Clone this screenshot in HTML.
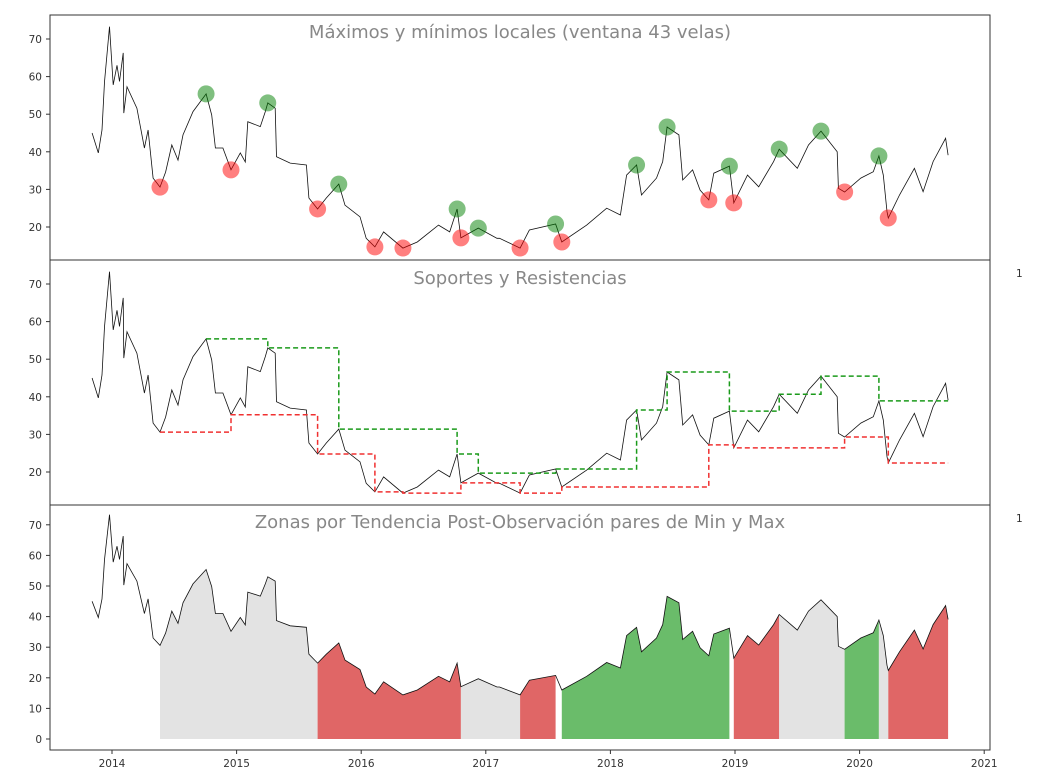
<!DOCTYPE html>
<html><head><meta charset="utf-8"><style>
html,body{margin:0;padding:0;background:#fff;}
svg{display:block;font-family:"DejaVu Sans","Liberation Sans",sans-serif;}
</style></head><body>
<svg id="chart" width="1050" height="777" viewBox="0 0 1050 777" xmlns="http://www.w3.org/2000/svg"></svg>
<script>
const priceYears=[2013.84,2013.89,2013.92,2013.94,2013.98,2014.01,2014.04,2014.06,2014.09,2014.095,2014.12,2014.20,2014.26,2014.29,2014.33,2014.385,2014.43,2014.48,2014.53,2014.57,2014.65,2014.755,2014.80,2014.83,2014.89,2014.955,2015.03,2015.07,2015.09,2015.19,2015.23,2015.25,2015.31,2015.32,2015.43,2015.56,2015.58,2015.65,2015.72,2015.82,2015.87,2015.99,2016.04,2016.11,2016.18,2016.335,2016.45,2016.62,2016.71,2016.77,2016.80,2016.94,2017.09,2017.11,2017.275,2017.35,2017.56,2017.61,2017.81,2017.97,2018.08,2018.13,2018.21,2018.25,2018.37,2018.42,2018.455,2018.55,2018.58,2018.66,2018.72,2018.79,2018.83,2018.955,2018.99,2019.10,2019.19,2019.31,2019.355,2019.50,2019.59,2019.69,2019.82,2019.83,2019.88,2020.01,2020.11,2020.155,2020.19,2020.22,2020.23,2020.32,2020.44,2020.51,2020.59,2020.69,2020.71];
const priceValues=[45,39.7,45.8,58.6,73.3,57.8,63,58.7,66.3,50.3,57.3,51.6,41,45.8,33,30.6,34.6,41.8,37.8,44.5,50.7,55.4,49.8,41,41,35.2,39.7,37.3,48,46.7,50.7,53,51.6,38.7,37,36.5,27.7,24.8,27.7,31.4,25.8,22.7,17,14.7,18.7,14.4,16,20.5,18.7,24.8,17.1,19.7,17,17,14.4,19.2,20.8,16,20.5,25,23.2,33.8,36.5,28.5,33,37.4,46.6,44.5,32.5,35.2,29.8,27.2,34.3,36.2,26.4,33.8,30.7,37.4,40.7,35.6,41.8,45.5,40,30.3,29.3,33,34.7,38.9,33.8,24.1,22.4,28.5,35.6,29.4,37.4,43.6,39.1];
const maxYears=[2014.755,2015.25,2015.82,2016.77,2016.94,2017.56,2018.21,2018.455,2018.955,2019.355,2019.69,2020.155];
const maxValues=[55.4,53,31.4,24.8,19.7,20.8,36.5,46.6,36.2,40.7,45.5,38.9];
const minYears=[2014.385,2014.955,2015.65,2016.11,2016.335,2016.80,2017.275,2017.61,2018.79,2018.99,2019.88,2020.23];
const minValues=[30.6,35.2,24.8,14.7,14.4,17.1,14.4,16,27.2,26.4,29.3,22.4];
const zoneStarts=[2014.385,2015.65,2016.80,2017.275,2017.61,2018.99,2019.355,2019.88,2020.155,2020.23];
const zoneEnds=[2015.65,2016.80,2017.275,2017.56,2018.955,2019.355,2019.88,2020.155,2020.23,2020.71];
const zoneKinds=["neutral","down","neutral","down","up","down","neutral","up","neutral","down"];
const xTickLabels=["2014","2015","2016","2017","2018","2019","2020","2021"];
const yTicksTop=[20,30,40,50,60,70];
const yTicksBottom=[0,10,20,30,40,50,60,70];

const NS="http://www.w3.org/2000/svg";
const svg=document.getElementById('chart');
function mk(tag,attrs,parent){const e=document.createElementNS(NS,tag);for(const k in attrs)e.setAttribute(k,attrs[k]);(parent||svg).appendChild(e);return e;}
const L=50,R=990;
const xs=y=>112+(y-2014)*124.6;
const y1=v=>39+(70-v)*3.76;
const y2=v=>284+(70-v)*3.76;
const y3=v=>739-v*3.06;
const panels=[{top:15,bot:260,ys:y1,ticks:yTicksTop,title:"Máximos y mínimos locales (ventana 43 velas)",ty:38,name:'extrema-panel'},
{top:260,bot:505,ys:y2,ticks:yTicksTop,title:"Soportes y Resistencias",ty:284,name:'support-resistance-panel'},
{top:505,bot:750,ys:y3,ticks:yTicksBottom,title:"Zonas por Tendencia Post-Observación pares de Min y Max",ty:528,name:'trend-zones-panel'}];
const zoneColor={neutral:"#e3e3e3",down:"#e06666",up:"#6abc6a"};

function pricePath(ys){return priceYears.map((t,i)=>(i?'L':'M')+xs(t).toFixed(1)+' '+ys(priceValues[i]).toFixed(1)).join(' ');}
function interp(t){for(let i=1;i<priceYears.length;i++){if(t<=priceYears[i]){const a=priceYears[i-1],b=priceYears[i];const f=(t-a)/(b-a);return priceValues[i-1]+f*(priceValues[i]-priceValues[i-1]);}}return priceValues[priceValues.length-1];}

panels.forEach((p,pi)=>{
  const g=mk('g',{});
  
  
  if(pi===2){
    zoneStarts.forEach((s,i)=>{
      const e=zoneEnds[i];
      let d='M'+xs(s).toFixed(1)+' '+p.ys(0)+' L'+xs(s).toFixed(1)+' '+p.ys(interp(s)).toFixed(1);
      priceYears.forEach((t,j)=>{if(t>s&&t<e)d+=' L'+xs(t).toFixed(1)+' '+p.ys(priceValues[j]).toFixed(1);});
      d+=' L'+xs(e).toFixed(1)+' '+p.ys(interp(e)).toFixed(1)+' L'+xs(e).toFixed(1)+' '+p.ys(0)+' Z';
      const z=mk('path',{d:d,fill:zoneColor[zoneKinds[i]]},g);
      
      
    });
  }
  const ln=mk('path',{d:pricePath(p.ys),fill:'none',stroke:'#111','stroke-width':0.8},g);
  
  
  if(pi===0){
    maxYears.forEach((t,i)=>{const c=mk('circle',{cx:xs(t),cy:p.ys(maxValues[i]),r:8.5,fill:'rgba(0,128,0,0.5)'},g);
      });
    minYears.forEach((t,i)=>{const c=mk('circle',{cx:xs(t),cy:p.ys(minValues[i]),r:8.5,fill:'rgba(255,0,0,0.5)'},g);
      });
  }
  if(pi===1){
    const last=priceYears[priceYears.length-1];
    [[maxYears,maxValues,'#1a9a1a','resistance-line'],[minYears,minValues,'#f03030','support-line']].forEach(([ty,vv,col,nm])=>{
      let d='';
      ty.forEach((t,i)=>{const e=i<ty.length-1?ty[i+1]:last;
        d+=(i?' L':'M')+xs(t).toFixed(1)+' '+p.ys(vv[i]).toFixed(1)+' L'+xs(e).toFixed(1)+' '+p.ys(vv[i]).toFixed(1);
        if(i<ty.length-1)d+=' L'+xs(e).toFixed(1)+' '+p.ys(vv[i+1]).toFixed(1);});
      const s=mk('path',{d:d,fill:'none',stroke:col,'stroke-width':1.5,'stroke-dasharray':'5,3'},g);
      
    });
  }
  p.ticks.forEach(v=>{const y=p.ys(v);mk('line',{x1:L-4,x2:L,y1:y,y2:y,stroke:'#333'},g);
    const tx=mk('text',{x:L-8,y:y+4,'font-size':10.5,fill:'#333','text-anchor':'end'},g);tx.textContent=v;
    });
  const fr=mk('rect',{x:L,y:p.top,width:R-L,height:p.bot-p.top,fill:'none',stroke:'#333','stroke-width':1},g);
  
  const ti=mk('text',{x:520,y:p.ty,'font-size':18,fill:'#888','text-anchor':'middle'},g);ti.textContent=p.title;
  
});
xTickLabels.forEach((lab,i)=>{const x=xs(2014+i);mk('line',{x1:x,x2:x,y1:750,y2:754,stroke:'#333'});
  const t=mk('text',{x:x,y:767,'font-size':10.5,fill:'#333','text-anchor':'middle'});t.textContent=lab;
  });
[273,518].forEach(y=>{const t=mk('text',{x:1016,y:y+4,'font-size':10.5,fill:'#333'});t.textContent='1';
  });
</script>
</body></html>
